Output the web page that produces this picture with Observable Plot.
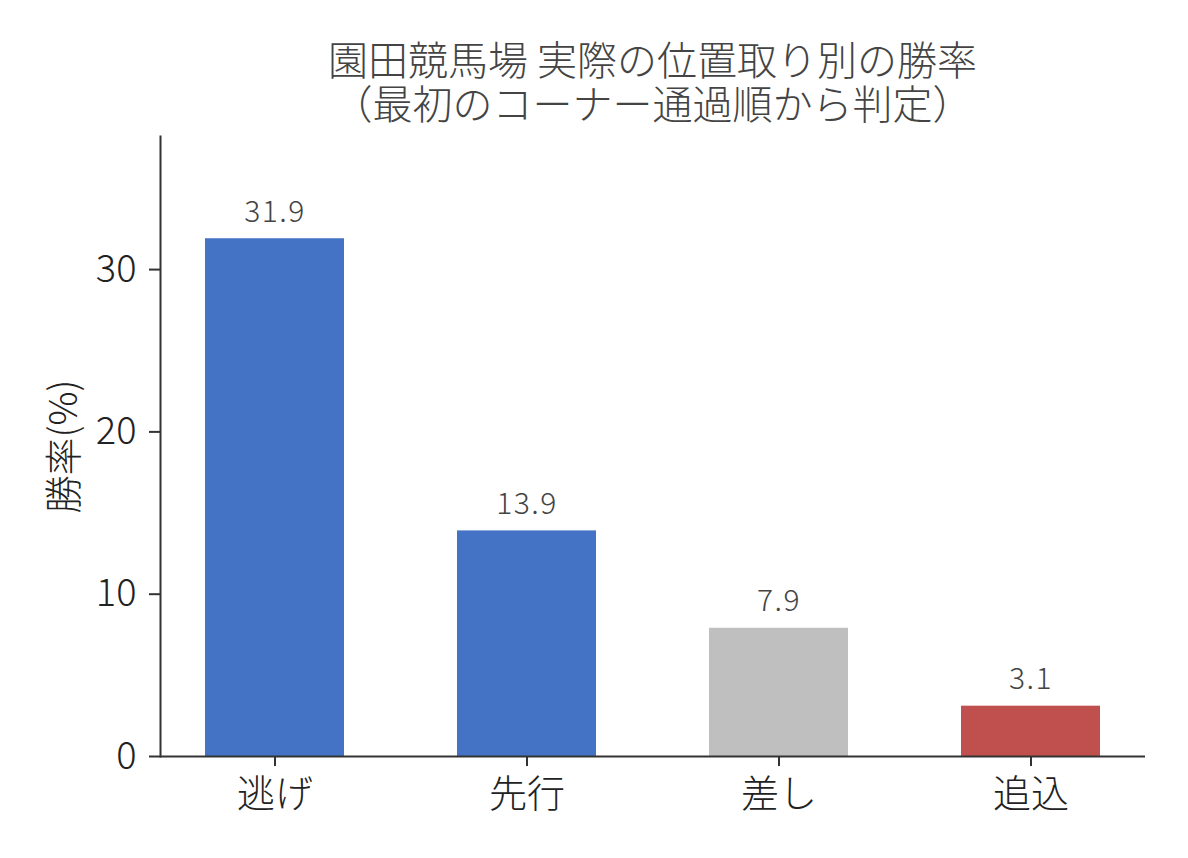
<!DOCTYPE html>
<html>
<head>
<meta charset="utf-8">
<script src="https://cdn.jsdelivr.net/npm/d3@7"></script>
<script src="https://cdn.jsdelivr.net/npm/@observablehq/plot@0.6"></script>
<style>
  html, body { margin: 0; padding: 0; background: #fff; }
  #wrap { width: 1188px; height: 858px; font-family: "Noto Sans CJK JP", "Noto Sans", sans-serif; }
  #title { box-sizing: border-box; height: 126px; padding: 36px 43px 0 160px; text-align: center;
           font-size: 40px; color: #444; font-weight: 300; }
  #title div { height: 44px; line-height: 44px; white-space: nowrap; }
  .vals text { letter-spacing: 1.5px; }
</style>
</head>
<body>
<div id="wrap">
  <div id="title"><div>園田競馬場 実際の位置取り別の勝率</div><div>（最初のコーナー通過順から判定）</div></div>
  <div id="chart"></div>
</div>
<script>
const categories = ["逃げ", "先行", "差し", "追込"];
const winRates = [31.9, 13.9, 7.9, 3.1];
const barColors = ["#4472C4", "#4472C4", "#BFBFBF", "#C0504D"];
const yTicks = [0, 10, 20, 30];
const yMax = 38.2;
const yLabel = "勝率(%)";

const data = categories.map((c, i) => ({cat: c, value: winRates[i], color: barColors[i]}));
const font = '"Noto Sans CJK JP", "Noto Sans", sans-serif';

const chart = Plot.plot({
  width: 1188,
  height: 732,
  marginTop: 10,
  marginBottom: 102,
  marginLeft: 160,
  marginRight: 43,
  style: {fontFamily: font, background: "#fff", fontWeight: 300},
  x: {domain: categories, paddingInner: 0.45, paddingOuter: 0.175, label: null},
  y: {domain: [0, yMax], label: null},
  color: {type: "identity"},
  marks: [
    Plot.barY(data, {x: "cat", y: "value", fill: "color"}),
    Plot.text(data, {x: "cat", y: "value", text: d => d.value.toFixed(1), lineAnchor: "bottom", dy: -17, fontSize: 30, fill: "#444", className: "vals"}),
    Plot.ruleY([0], {stroke: "#333", strokeWidth: 2}),
    Plot.frame({anchor: "left", stroke: "#333", strokeWidth: 2}),
    Plot.axisY({ticks: yTicks, tickSize: 11, tickPadding: 13, fontSize: 38, label: null, stroke: "#333", strokeWidth: 2, color: "#222"}),
    Plot.axisX({tickSize: 10, tickPadding: 14, fontSize: 38, label: null, stroke: "#333", strokeWidth: 2, color: "#222"}),
    Plot.text([yLabel], {frameAnchor: "left", textAnchor: "middle", dx: -96, rotate: -90, fontSize: 38, fill: "#222"})
  ]
});
document.getElementById("chart").appendChild(chart);
</script>
</body>
</html>
